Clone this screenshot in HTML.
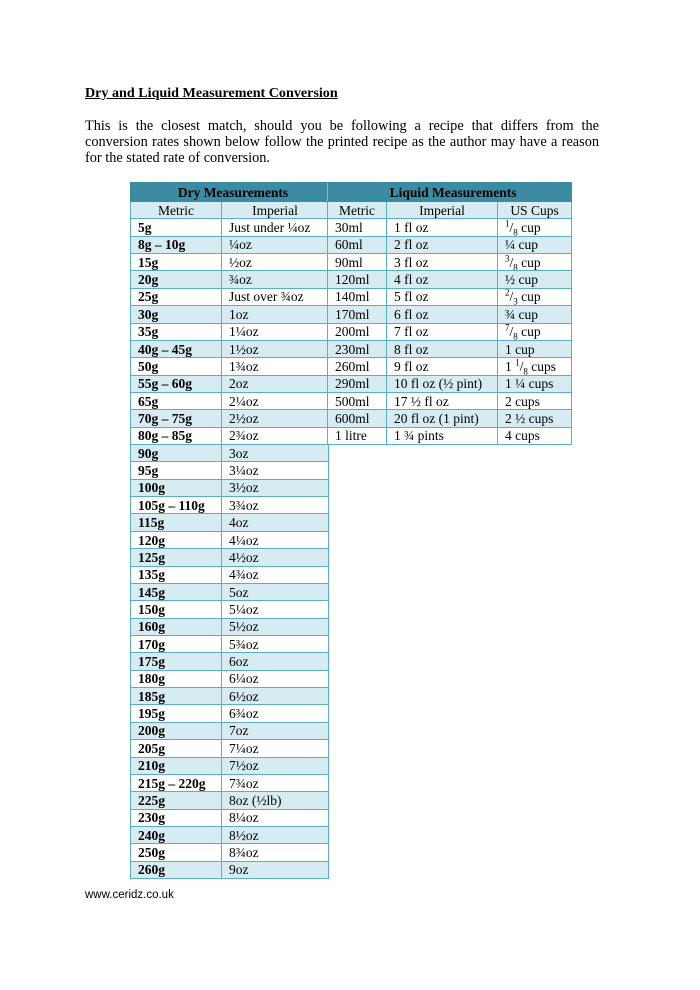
<!DOCTYPE html>
<html><head><meta charset="utf-8"><style>
body{margin:0;width:700px;height:990px;background:#fff;position:relative;font-family:"Liberation Serif",serif;color:#000}
.t{position:absolute;font-size:13.5px}
table{position:absolute;border-collapse:collapse;font-size:13.5px;table-layout:fixed}
td{border:1px solid #5aaecb;padding:0 0 0 7px;height:16.37px;line-height:15px;white-space:nowrap;overflow:hidden;background:#fff}
tr.h td{background:#3b8ba3;font-weight:bold;text-align:center;height:18px;border-color:#3b8ba3}
tr:nth-child(2n) td{background:#d6ebf2}
tr.s td{background:#d6ebf2;text-align:center;padding:0}
.d td:first-child{font-weight:bold}
.d tr.s td:first-child{font-weight:normal}
sup,sub{font-size:9px;line-height:0}
</style></head><body>
<div class="t" style="left:85px;top:85px;font-weight:bold;text-decoration:underline;font-size:14.1px">Dry and Liquid Measurement Conversion</div>
<div class="t" style="left:85px;top:118px;width:514px;text-align:justify;line-height:16px;font-size:14.3px">This is the closest match, should you be following a recipe that differs from the conversion rates shown below follow the printed recipe as the author may have a reason for the stated rate of conversion.</div>
<table class="d" style="left:130px;top:182px;width:198px">
<col style="width:91px"><col style="width:107px">
<tr class="h"><td colspan="2">Dry Measurements</td></tr>
<tr class="s"><td>Metric</td><td>Imperial</td></tr>
<tr><td>5g</td><td>Just under ¼oz</td></tr>
<tr><td>8g – 10g</td><td>¼oz</td></tr>
<tr><td>15g</td><td>½oz</td></tr>
<tr><td>20g</td><td>¾oz</td></tr>
<tr><td>25g</td><td>Just over ¾oz</td></tr>
<tr><td>30g</td><td>1oz</td></tr>
<tr><td>35g</td><td>1¼oz</td></tr>
<tr><td>40g – 45g</td><td>1½oz</td></tr>
<tr><td>50g</td><td>1¾oz</td></tr>
<tr><td>55g – 60g</td><td>2oz</td></tr>
<tr><td>65g</td><td>2¼oz</td></tr>
<tr><td>70g – 75g</td><td>2½oz</td></tr>
<tr><td>80g – 85g</td><td>2¾oz</td></tr>
<tr><td>90g</td><td>3oz</td></tr>
<tr><td>95g</td><td>3¼oz</td></tr>
<tr><td>100g</td><td>3½oz</td></tr>
<tr><td>105g – 110g</td><td>3¾oz</td></tr>
<tr><td>115g</td><td>4oz</td></tr>
<tr><td>120g</td><td>4¼oz</td></tr>
<tr><td>125g</td><td>4½oz</td></tr>
<tr><td>135g</td><td>4¾oz</td></tr>
<tr><td>145g</td><td>5oz</td></tr>
<tr><td>150g</td><td>5¼oz</td></tr>
<tr><td>160g</td><td>5½oz</td></tr>
<tr><td>170g</td><td>5¾oz</td></tr>
<tr><td>175g</td><td>6oz</td></tr>
<tr><td>180g</td><td>6¼oz</td></tr>
<tr><td>185g</td><td>6½oz</td></tr>
<tr><td>195g</td><td>6¾oz</td></tr>
<tr><td>200g</td><td>7oz</td></tr>
<tr><td>205g</td><td>7¼oz</td></tr>
<tr><td>210g</td><td>7½oz</td></tr>
<tr><td>215g – 220g</td><td>7¾oz</td></tr>
<tr><td>225g</td><td>8oz (½lb)</td></tr>
<tr><td>230g</td><td>8¼oz</td></tr>
<tr><td>240g</td><td>8½oz</td></tr>
<tr><td>250g</td><td>8¾oz</td></tr>
<tr><td>260g</td><td>9oz</td></tr>
</table>
<table style="left:327px;top:182px;width:244px">
<col style="width:59px"><col style="width:111px"><col style="width:74px">
<tr class="h"><td colspan="3" style="border-left:1px solid #7fc0d6">Liquid Measurements</td></tr>
<tr class="s"><td>Metric</td><td>Imperial</td><td>US Cups</td></tr>
<tr><td>30ml</td><td>1 fl oz</td><td><sup>1</sup>/<sub>8</sub> cup</td></tr>
<tr><td>60ml</td><td>2 fl oz</td><td>¼ cup</td></tr>
<tr><td>90ml</td><td>3 fl oz</td><td><sup>3</sup>/<sub>8</sub> cup</td></tr>
<tr><td>120ml</td><td>4 fl oz</td><td>½ cup</td></tr>
<tr><td>140ml</td><td>5 fl oz</td><td><sup>2</sup>/<sub>3</sub> cup</td></tr>
<tr><td>170ml</td><td>6 fl oz</td><td>¾ cup</td></tr>
<tr><td>200ml</td><td>7 fl oz</td><td><sup>7</sup>/<sub>8</sub> cup</td></tr>
<tr><td>230ml</td><td>8 fl oz</td><td>1 cup</td></tr>
<tr><td>260ml</td><td>9 fl oz</td><td>1 <sup>1</sup>/<sub>8</sub> cups</td></tr>
<tr><td>290ml</td><td>10 fl oz (½ pint)</td><td>1 ¼ cups</td></tr>
<tr><td>500ml</td><td>17 ½ fl oz</td><td>2 cups</td></tr>
<tr><td>600ml</td><td>20 fl oz (1 pint)</td><td>2 ½ cups</td></tr>
<tr><td>1 litre</td><td>1 ¾ pints</td><td>4 cups</td></tr>
</table>
<div class="t" style="left:85px;top:889px;font-family:'Liberation Sans',sans-serif;font-size:11.5px">www.ceridz.co.uk</div>
</body></html>
